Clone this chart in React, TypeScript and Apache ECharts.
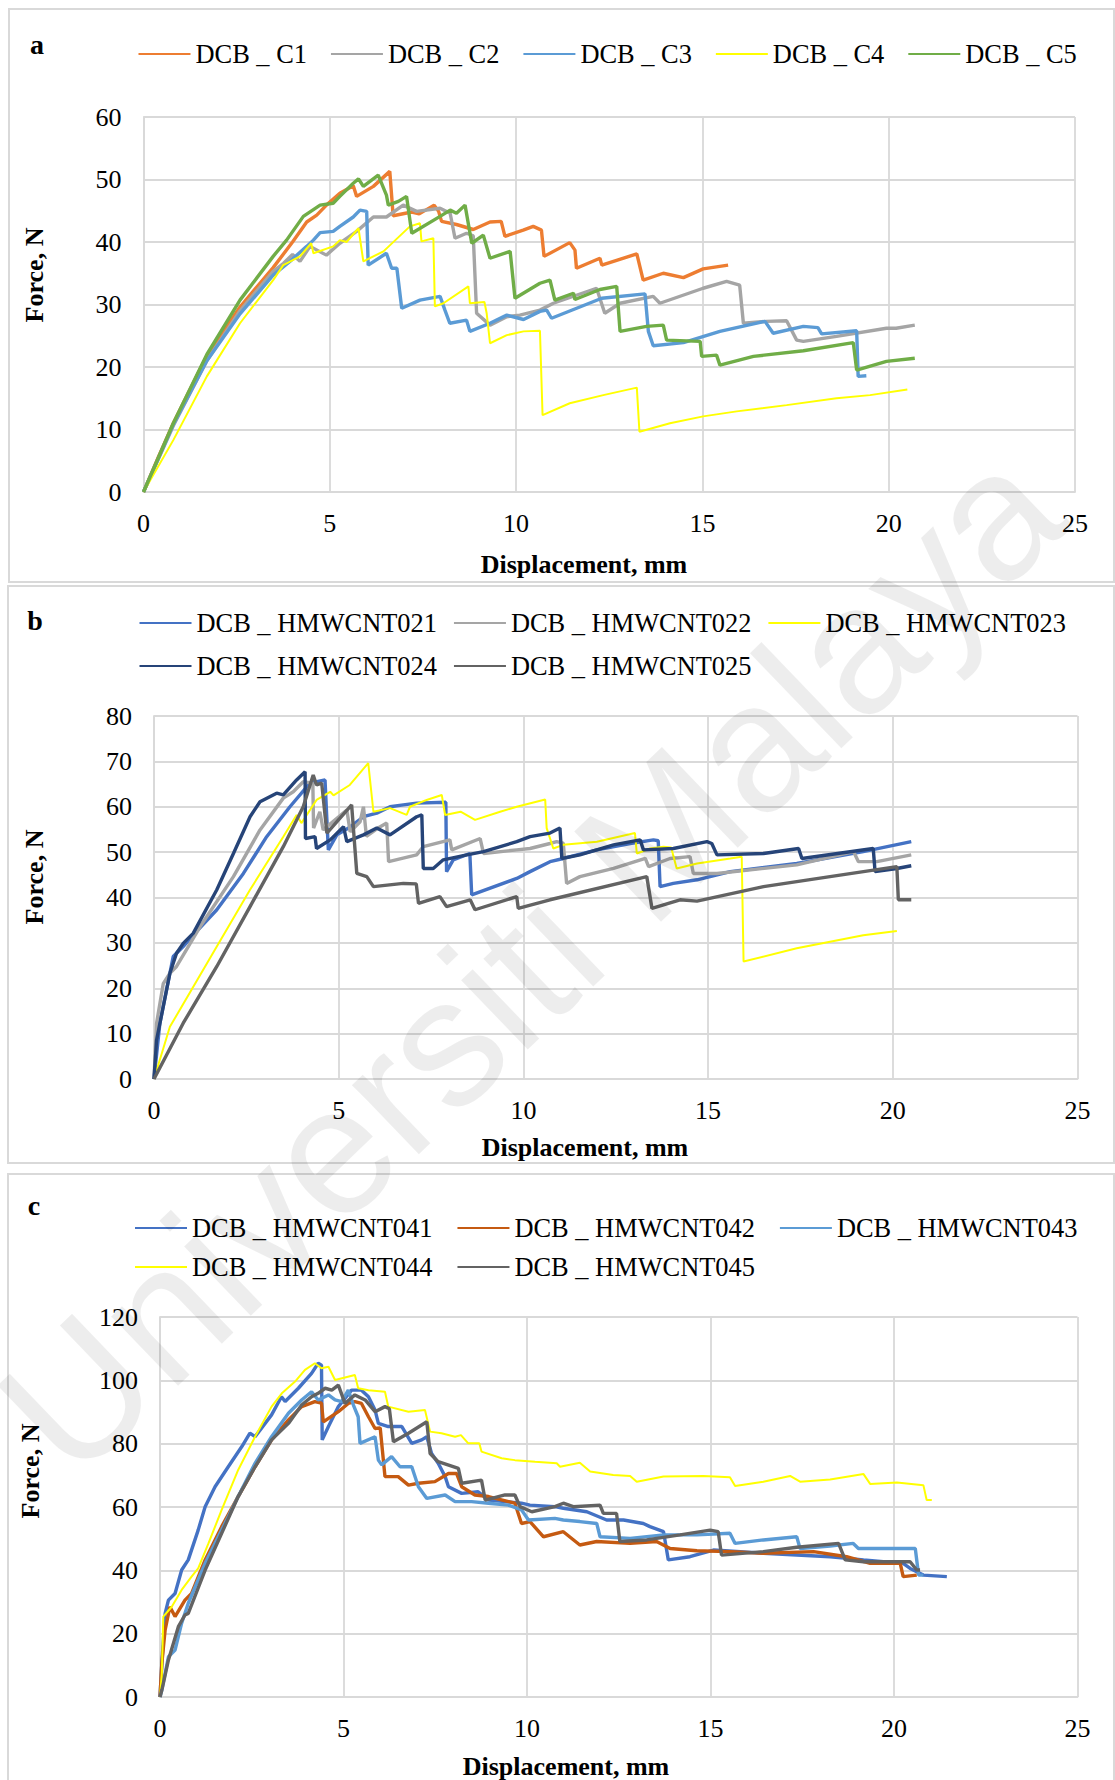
import React, { useEffect, useRef } from "react";
import * as echarts from "echarts";

type P = [number, number];

// ---------- Panel a ----------
const aNames = ["DCB _ C1", "DCB _ C2", "DCB _ C3", "DCB _ C4", "DCB _ C5"];
const aC1: P[] = [[0,0],[0.4,5.6],[0.8,11.0],[1.7,21.8],[2.59,29.6],[3.48,35.9],[4.0,40.0],[4.38,43.2],[4.65,44.3],[4.91,45.9],[5.27,47.8],[5.63,49.0],[5.72,47.3],[6.17,48.9],[6.61,51.3],[6.70,44.2],[7.2,44.8],[7.4,44.5],[7.8,45.9],[7.92,44.9],[8.0,43.3],[8.4,42.8],[8.85,42.0],[9.3,43.2],[9.6,43.3],[9.7,40.9],[10.19,41.9],[10.46,42.5],[10.68,41.9],[10.75,37.7],[11.44,39.9],[11.58,38.7],[11.62,35.8],[12.25,37.4],[12.3,36.3],[13.24,38.1],[13.41,33.9],[13.95,35.0],[14.49,34.3],[15.02,35.7],[15.69,36.3]];
const aC2: P[] = [[0,0],[0.8,10.6],[1.7,21.0],[2.59,29.0],[3.48,35.3],[3.76,36.6],[4.0,38.0],[4.2,36.9],[4.47,39.3],[4.91,37.9],[5.27,39.8],[5.72,41.7],[6.17,44.0],[6.52,44.0],[6.97,45.9],[7.33,44.9],[7.96,45.4],[8.23,44.6],[8.36,40.6],[8.67,41.4],[8.85,41.0],[8.94,28.6],[9.3,26.7],[9.75,28.05],[10.1,28.3],[10.64,29.1],[11.0,30.2],[12.16,32.6],[12.38,28.6],[12.79,30.2],[13.68,31.3],[13.86,30.2],[15.02,32.6],[15.65,33.7],[16.0,33.1],[16.1,27.0],[16.72,27.3],[17.26,27.4],[17.53,24.3],[17.71,24.1],[18.6,24.9],[19.94,26.2],[20.2,26.2],[20.7,26.7]];
const aC3: P[] = [[0,0],[0.8,10.8],[1.7,21.0],[2.59,28.5],[3.48,34.7],[3.93,36.9],[4.38,39.3],[4.56,40.3],[4.74,41.5],[5.09,41.7],[5.27,42.5],[5.63,44.0],[5.81,45.1],[5.99,44.9],[6.03,36.3],[6.52,38.2],[6.66,35.8],[6.8,35.8],[6.93,29.4],[7.42,30.7],[7.96,31.3],[8.09,29.1],[8.22,27.0],[8.67,27.5],[8.76,25.7],[9.3,27.0],[9.75,28.3],[10.2,27.6],[10.64,28.9],[10.82,29.1],[10.95,27.8],[12.3,31.0],[13.46,31.7],[13.55,25.7],[13.68,23.4],[14.49,23.9],[15.47,25.7],[16.68,27.3],[16.9,25.4],[17.71,26.5],[18.1,26.3],[18.2,25.3],[19.14,25.8],[19.18,18.5],[19.4,18.6]];
const aC4: P[] = [[0,0],[0.8,8.3],[1.7,18.5],[2.59,27.0],[3.48,33.9],[3.75,36.3],[4.2,37.7],[4.5,39.8],[4.56,38.2],[5.09,39.3],[5.27,40.3],[5.45,40.0],[5.77,42.2],[5.9,36.9],[6.44,38.5],[7.15,42.5],[7.42,43.0],[7.46,40.1],[7.78,40.6],[7.82,29.7],[8.05,30.2],[8.72,32.9],[8.76,30.2],[9.15,30.4],[9.21,28.6],[9.3,23.8],[9.75,25.1],[10.2,25.7],[10.64,25.8],[10.71,12.3],[11.44,14.2],[12.34,15.5],[13.24,16.7],[13.31,9.65],[14.13,11.0],[15.02,12.1],[15.92,12.9],[17.26,13.9],[18.6,15.0],[19.5,15.5],[20.5,16.4]];
const aC5: P[] = [[0,0],[0.8,11.0],[1.7,22.0],[2.59,30.7],[3.48,37.7],[3.84,40.3],[4.29,44.1],[4.74,45.9],[5.09,46.2],[5.27,47.3],[5.63,49.4],[5.77,50.1],[5.9,48.9],[6.3,50.7],[6.52,47.5],[6.57,45.9],[6.84,46.5],[7.06,47.3],[7.2,41.4],[7.96,44.1],[8.23,45.1],[8.4,44.6],[8.63,45.9],[8.81,39.8],[9.12,41.1],[9.3,37.4],[9.84,38.5],[9.97,31.0],[10.64,33.4],[10.91,33.9],[11.04,30.7],[11.54,31.8],[11.58,30.8],[12.25,32.4],[12.7,32.9],[12.79,25.7],[13.5,26.5],[13.95,26.7],[14.04,24.3],[14.94,24.1],[14.98,21.7],[15.38,21.9],[15.47,20.3],[16.37,21.7],[17.71,22.6],[19.05,23.9],[19.14,19.5],[19.94,20.9],[20.7,21.4]];

// ---------- Panel b ----------
const bNames = ["DCB _ HMWCNT021", "DCB _ HMWCNT022", "DCB _ HMWCNT023", "DCB _ HMWCNT024", "DCB _ HMWCNT025"];
const b021: P[] = [[0,0],[0.16,12.3],[0.52,27.0],[0.79,29.2],[1.06,31.7],[1.7,37.3],[2.42,45.3],[3.05,53.4],[3.68,60.0],[4.22,65.2],[4.63,65.9],[4.68,57.1],[4.72,50.5],[4.95,53.8],[5.3,55.5],[5.67,57.8],[6.03,58.6],[6.39,60.0],[6.75,60.4],[7.11,60.8],[7.9,61.0],[7.92,45.7],[8.1,48.3],[8.55,49.7],[8.6,40.6],[9.82,44.2],[10.18,45.7],[10.72,47.9],[11.08,48.6],[11.99,50.5],[12.89,51.9],[13.52,52.7],[13.65,52.5],[13.70,42.4],[14.06,43.1],[14.7,43.9],[15.6,45.7],[17.4,47.5],[19.2,50.1],[20.5,52.3]];
const b022: P[] = [[0,0],[0.07,12.3],[0.25,21.0],[0.43,23.3],[0.61,24.8],[1.25,33.6],[2.15,44.6],[2.87,54.9],[3.5,61.9],[3.77,63.3],[4.04,65.5],[4.3,65.2],[4.32,55.3],[4.49,58.9],[4.58,54.9],[5.22,59.3],[5.31,54.5],[5.58,56.7],[5.67,60.0],[5.75,53.5],[6.1,55.5],[6.3,56.4],[6.35,47.9],[7.11,49.4],[7.29,51.2],[8.01,52.7],[8.06,50.5],[8.83,53.0],[8.92,49.7],[9.82,50.5],[10.18,50.8],[10.72,51.9],[10.9,52.3],[11.08,52.0],[11.17,43.1],[11.53,44.6],[12.44,46.4],[13.3,48.6],[13.39,46.8],[13.97,48.6],[14.51,49.0],[14.6,45.3],[15.24,45.3],[17.4,47.2],[18.94,50.1],[19.07,47.9],[19.57,47.9],[20.5,49.4]];
const b023: P[] = [[0,0],[0.43,11.5],[1.7,29.2],[2.6,41.7],[3.5,53.4],[3.86,58.2],[3.99,56.4],[4.4,61.5],[4.77,63.3],[4.86,62.5],[5.3,64.8],[5.8,69.6],[5.94,58.9],[6.39,59.7],[6.84,58.2],[6.93,60.0],[7.38,61.5],[7.79,62.6],[7.88,58.2],[8.3,58.9],[8.69,57.1],[9.37,58.9],[9.82,60.0],[10.59,61.6],[10.63,55.3],[10.81,50.8],[11.08,51.6],[11.99,52.3],[13.02,54.2],[13.07,49.7],[13.43,50.8],[13.79,51.2],[14.0,51.0],[14.15,46.4],[14.7,47.5],[15.6,48.6],[15.91,49.0],[15.96,25.9],[17.4,28.8],[19.2,31.7],[20.11,32.6]];
const b024: P[] = [[0,0],[0.07,8.6],[0.43,23.3],[0.61,27.7],[0.79,29.9],[1.06,32.1],[1.7,41.7],[2.15,49.7],[2.6,57.8],[2.87,61.1],[3.32,63.0],[3.5,62.6],[3.86,65.9],[4.09,67.7],[4.1,53.0],[4.36,53.4],[4.4,50.8],[4.77,52.7],[5.13,55.6],[5.22,52.3],[5.67,53.8],[6.03,55.3],[6.39,53.8],[7.11,57.8],[7.25,58.2],[7.29,46.4],[7.56,46.4],[7.83,48.3],[8.47,49.4],[8.92,50.1],[9.82,52.3],[10.18,53.4],[10.72,54.2],[10.99,55.3],[11.04,48.6],[11.53,49.4],[12.44,51.6],[13.16,52.7],[13.25,50.5],[14.06,50.8],[14.97,52.3],[15.1,51.9],[15.24,49.4],[16.5,49.7],[17.45,50.8],[17.54,48.6],[19.47,50.8],[19.52,45.7],[20.11,46.4],[20.5,47.0]];
const b025: P[] = [[0,0],[0.79,12.3],[1.7,24.8],[2.6,38.0],[3.5,51.2],[4.04,60.0],[4.31,67.0],[4.4,64.8],[4.54,65.2],[4.68,54.2],[5.35,60.4],[5.49,45.3],[5.76,44.6],[5.94,42.4],[6.75,43.1],[7.1,43.0],[7.16,38.7],[7.74,40.2],[7.92,38.0],[8.56,39.5],[8.69,37.3],[9.82,40.2],[9.86,37.6],[10.72,39.5],[13.34,44.6],[13.48,37.6],[14.24,39.5],[14.7,39.2],[16.5,42.4],[18.3,44.6],[20.11,46.8],[20.15,39.5],[20.5,39.5]];

// ---------- Panel c ----------
const cNames = ["DCB _ HMWCNT041", "DCB _ HMWCNT042", "DCB _ HMWCNT043", "DCB _ HMWCNT044", "DCB _ HMWCNT045"];
const c041: P[] = [[0,0],[0.05,10.6],[0.14,26.4],[0.23,30.6],[0.41,32.7],[0.59,40.1],[0.77,43.3],[1.04,52.7],[1.23,60.1],[1.5,66.4],[1.86,72.7],[2.23,79.1],[2.45,83.3],[2.59,82.2],[3.04,89.1],[3.31,94.8],[3.41,93.3],[3.77,97.5],[4.13,102.2],[4.31,105.4],[4.4,104.8],[4.42,81.2],[4.59,85.4],[4.86,91.7],[5.22,96.9],[5.49,96.9],[5.68,94.8],[5.86,90.6],[5.95,86.4],[6.22,85.4],[6.59,85.4],[6.86,80.1],[7.13,81.2],[7.27,82.2],[7.4,76.9],[7.58,73.8],[7.77,69.6],[7.86,66.4],[8.22,64.3],[8.67,64.8],[8.95,62.2],[9.85,61.2],[10.08,60.6],[10.76,60.1],[10.99,59.6],[11.63,58.5],[12.17,55.9],[12.63,55.9],[13.17,54.8],[13.35,53.8],[13.72,52.2],[13.85,43.3],[14.44,44.3],[15.08,46.4],[16.44,45.4],[18.26,44.3],[19.17,43.3],[20.25,42.2],[20.44,40.6],[20.8,38.5],[21.44,38.0]];
const c042: P[] = [[0,0],[0.05,10.6],[0.14,21.2],[0.27,28.5],[0.41,25.4],[0.68,30.6],[0.86,32.7],[1.23,43.3],[1.68,53.8],[2.13,63.3],[2.59,72.7],[3.04,81.2],[3.5,87.5],[3.86,91.7],[4.22,93.3],[4.4,92.8],[4.45,86.9],[4.86,90.1],[5.13,92.7],[5.31,93.3],[5.49,92.7],[5.68,88.5],[5.86,84.8],[6.0,85.0],[6.13,69.6],[6.49,69.6],[6.77,66.9],[7.04,67.5],[7.49,68.0],[7.86,70.6],[8.08,70.6],[8.22,66.4],[8.58,63.8],[8.95,63.3],[9.67,61.2],[9.85,54.8],[10.08,55.4],[10.45,50.6],[10.99,52.2],[11.44,48.0],[11.9,49.1],[12.81,48.5],[13.53,49.1],[13.9,46.9],[14.63,46.2],[15.53,45.9],[16.44,45.4],[17.81,45.9],[18.71,44.3],[19.35,42.2],[20.17,42.2],[20.25,38.0],[20.62,38.5]];
const c043: P[] = [[0,0],[0.05,2.2],[0.23,12.7],[0.41,14.8],[0.59,23.3],[0.77,29.6],[1.23,42.2],[1.68,52.7],[2.13,63.3],[2.59,73.8],[3.04,82.2],[3.5,89.6],[3.86,93.8],[4.13,96.4],[4.31,93.8],[4.59,95.4],[4.77,93.8],[4.95,93.3],[5.13,96.9],[5.27,92.2],[5.4,88.5],[5.45,80.1],[5.86,82.2],[5.95,74.8],[6.04,73.3],[6.31,75.9],[6.54,72.7],[6.86,72.7],[7.04,66.4],[7.27,62.7],[7.77,63.8],[8.04,61.7],[8.49,61.7],[8.95,61.2],[9.49,60.6],[9.85,59.1],[10.04,55.9],[10.76,56.4],[10.99,55.9],[11.44,55.4],[11.9,54.8],[11.99,50.6],[12.81,50.1],[13.72,51.2],[14.63,51.2],[15.53,51.7],[15.67,48.5],[16.44,49.6],[17.35,50.6],[17.44,46.9],[18.26,47.7],[18.89,48.5],[19.03,46.9],[20.58,46.9],[20.67,38.5],[20.8,38.5]];
const c044: P[] = [[0,0],[0.05,7.5],[0.09,25.4],[0.32,28.5],[0.59,33.8],[0.86,38.0],[1.04,40.6],[1.32,48.5],[1.68,59.1],[2.13,71.7],[2.59,82.2],[3.04,91.7],[3.32,95.9],[3.68,99.6],[3.95,103.3],[4.22,105.4],[4.4,103.8],[4.59,104.3],[4.77,100.1],[5.31,101.7],[5.4,97.5],[5.68,96.9],[6.13,96.4],[6.22,91.7],[6.77,90.1],[7.22,90.6],[7.36,83.8],[7.67,83.3],[8.04,82.2],[8.2,82.7],[8.4,80.1],[8.7,80.1],[8.76,77.5],[9.31,75.4],[9.67,74.8],[10.22,74.3],[10.81,73.8],[10.9,72.7],[11.44,74.0],[11.72,71.2],[12.35,70.1],[12.81,69.8],[12.99,68.0],[13.72,69.6],[14.81,69.8],[15.53,69.4],[15.67,66.6],[16.44,68.0],[17.17,69.8],[17.44,68.0],[18.26,68.7],[19.17,70.4],[19.35,67.3],[20.08,67.7],[20.8,66.9],[20.89,62.2],[21.03,62.2]];
const c045: P[] = [[0,0],[0.05,2.2],[0.23,11.7],[0.5,22.2],[0.68,25.9],[0.77,26.4],[1.23,40.1],[1.68,51.7],[2.13,63.3],[2.59,72.7],[3.04,81.2],[3.5,86.4],[3.86,92.2],[4.13,94.8],[4.31,95.9],[4.5,97.5],[4.68,96.9],[4.86,98.5],[5.04,92.7],[5.31,95.4],[5.59,93.8],[5.86,90.1],[6.13,91.7],[6.25,91.0],[6.36,80.6],[6.77,83.3],[7.27,86.9],[7.36,76.9],[7.58,74.3],[8.13,72.2],[8.22,67.5],[8.76,68.5],[8.86,62.2],[9.4,63.8],[9.67,63.8],[9.81,60.1],[10.13,58.5],[10.76,60.1],[10.99,61.2],[11.26,60.1],[11.99,60.6],[12.08,58.0],[12.44,58.0],[12.53,49.1],[13.26,49.6],[14.17,51.2],[14.99,52.7],[15.21,52.2],[15.3,44.8],[16.44,45.9],[17.35,47.3],[18.49,48.5],[18.67,43.3],[19.17,42.7],[20.44,42.7],[20.62,40.1],[20.71,40.1]];

// axis ranges / tick labels
const xMax = 25;
const xStep = 5;
const yMaxes = [60, 80, 120];
const ySteps = [10, 10, 20];
const panelLetters = ["a", "b", "c"];
const xTitle = "Displacement, mm";
const yTitle = "Force, N";
const watermark = "Universiti Malaya";

const aColors = ["#ED7D31", "#A5A5A5", "#5B9BD5", "#FFFF00", "#70AD47"];
const bColors = ["#4472C4", "#A5A5A5", "#FFFF00", "#264478", "#636363"];
const cColors = ["#4472C4", "#C55A11", "#5B9BD5", "#FFFF00", "#636363"];

const FONT = "Liberation Serif, Times New Roman, serif";
const GRID_COLOR = "#D9D9D9";

export default function App() {
  const ref = useRef<HTMLDivElement>(null);

  useEffect(() => {
    if (!ref.current) return;
    const chart = echarts.init(ref.current, undefined, { renderer: "svg" });

    const grids = [
      { left: 143.5, top: 117, width: 931.5, height: 375 },
      { left: 154, top: 716, width: 923.5, height: 363 },
      { left: 160, top: 1317, width: 917.5, height: 380 },
    ];

    const xAxes = grids.map((_, i) => ({
      type: "value",
      gridIndex: i,
      min: 0,
      max: xMax,
      interval: xStep,
      axisLine: { show: true, lineStyle: { color: GRID_COLOR, width: 1.8 } },
      axisTick: { show: false },
      axisLabel: { color: "#000", fontFamily: FONT, fontSize: 26, margin: 18 },
      splitLine: { show: true, lineStyle: { color: GRID_COLOR, width: 1.8 } },
    }));
    const yAxes = grids.map((_, i) => ({
      type: "value",
      gridIndex: i,
      min: 0,
      max: yMaxes[i],
      interval: ySteps[i],
      axisLine: { show: true, lineStyle: { color: GRID_COLOR, width: 1.8 } },
      axisTick: { show: false },
      axisLabel: { color: "#000", fontFamily: FONT, fontSize: 26, margin: 22 },
      splitLine: { show: true, lineStyle: { color: GRID_COLOR, width: 1.8 } },
    }));

    const mk = (name: string, data: P[], color: string, idx: number) => ({
      type: "line",
      name,
      data,
      xAxisIndex: idx,
      yAxisIndex: idx,
      showSymbol: false,
      symbol: "none",
      lineStyle: { color, width: color === "#FFFF00" ? 2 : 3.4 },
      itemStyle: { color },
      emphasis: { disabled: true },
    });

    const series = [
      ...[aC1, aC2, aC3, aC4, aC5].map((d, k) => mk(aNames[k], d, aColors[k], 0)),
      ...[b021, b022, b023, b024, b025].map((d, k) => mk(bNames[k], d, bColors[k], 1)),
      ...[c041, c042, c043, c044, c045].map((d, k) => mk(cNames[k], d, cColors[k], 2)),
    ];

    const legendBase = {
      orient: "horizontal",
      itemWidth: 52,
      itemHeight: 14,
      padding: 0,
      selectedMode: false,
      itemStyle: { opacity: 0 },
      textStyle: { fontFamily: FONT, fontSize: 26.4, color: "#000", lineHeight: 30 },
    };
    const legends = [
      { ...legendBase, left: 137.5, top: 39, itemGap: 23, data: aNames },
      { ...legendBase, left: 138.5, top: 608, itemGap: 16, data: bNames.slice(0, 3) },
      { ...legendBase, left: 138.5, top: 651, itemGap: 16, data: bNames.slice(3) },
      { ...legendBase, left: 134, top: 1213, itemGap: 24, data: cNames.slice(0, 3) },
      { ...legendBase, left: 134, top: 1252, itemGap: 24, data: cNames.slice(3) },
    ];

    const frames = [
      { x: 9, y: 9, w: 1105, h: 573 },
      { x: 8, y: 586, w: 1106, h: 577 },
      { x: 8, y: 1174, w: 1106, h: 640 },
    ];
    const letterPos = [[37, 44], [35, 620], [34, 1205]];
    const xTitlePos = [[584, 564], [585, 1147], [566, 1766]];
    const yTitlePos = [[34, 275], [34, 877], [30, 1471]];

    const graphics: any[] = [];
    frames.forEach((f) =>
      graphics.push({
        type: "rect",
        shape: { x: f.x, y: f.y, width: f.w, height: f.h },
        style: { fill: "none", stroke: GRID_COLOR, lineWidth: 2 },
        silent: true,
        z: -10,
      })
    );
    panelLetters.forEach((l, i) => {
      graphics.push({
        type: "text",
        x: letterPos[i][0],
        y: letterPos[i][1],
        style: { text: l, font: `bold 28px ${FONT}`, fill: "#000", textAlign: "center", textVerticalAlign: "middle" },
      });
      graphics.push({
        type: "text",
        x: xTitlePos[i][0],
        y: xTitlePos[i][1],
        style: { text: xTitle, font: `bold 26px ${FONT}`, fill: "#000", textAlign: "center", textVerticalAlign: "middle" },
      });
      graphics.push({
        type: "text",
        x: yTitlePos[i][0],
        y: yTitlePos[i][1],
        rotation: Math.PI / 2,
        style: { text: yTitle, font: `bold 26px ${FONT}`, fill: "#000", textAlign: "center", textVerticalAlign: "middle" },
      });
    });
    // faint repository watermark running diagonally across the figure
    graphics.push({
      type: "text",
      x: 530,
      y: 960,
      rotation: 0.765,
      silent: true,
      z: 100,
      style: {
        text: watermark,
        font: "182px Liberation Sans, Arial, sans-serif",
        fill: "rgba(0,0,0,0.07)",
        textAlign: "center",
        textVerticalAlign: "middle",
      },
    });

    chart.setOption({
      animation: false,
      backgroundColor: "#fff",
      grid: grids,
      xAxis: xAxes,
      yAxis: yAxes,
      legend: legends,
      series,
      graphic: { elements: graphics },
    });

    return () => chart.dispose();
  }, []);

  return (
    <div
      ref={ref}
      style={{ position: "absolute", left: 0, top: 0, width: 1115, height: 1780, background: "#fff" }}
    />
  );
}
